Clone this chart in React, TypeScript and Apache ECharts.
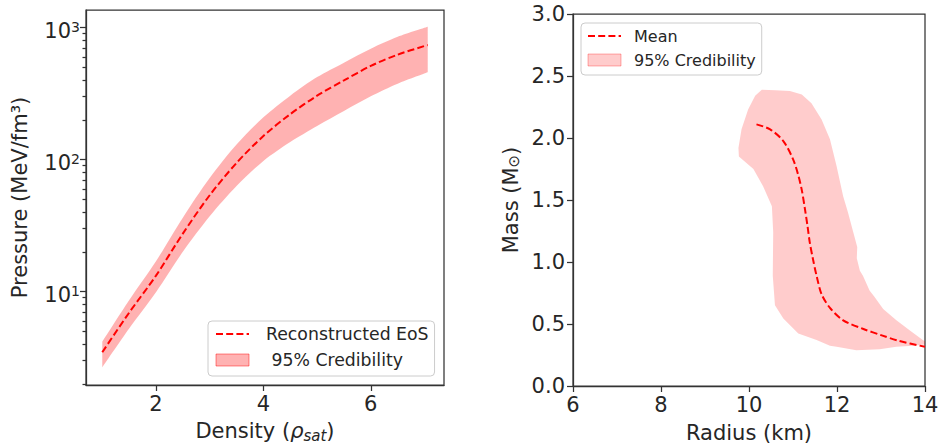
import React, { useEffect, useRef } from "react";
import * as echarts from "echarts";

// ---------- Left panel: EoS ----------
const density = [1.0, 1.5, 2.0, 2.5, 3.0, 3.5, 4.0, 4.5, 5.0, 5.5, 6.0, 6.5, 7.06];
const pressureMean = [3.47, 6.92, 13.2, 27.5, 53.7, 94.4, 151, 221, 305, 398, 513, 624, 738];
const pressureUpper = [4.17, 8.61, 17.0, 36.3, 72.4, 130, 209, 305, 422, 543, 692, 851, 1014];
const pressureLower = [2.66, 5.25, 9.89, 20.0, 37.2, 63.1, 97.7, 136, 180, 234, 302, 376, 459];
const densityTicks = [2, 4, 6];
const pressureDecades = [10, 100, 1000];
const pressureMinorTicks = [2, 3, 4, 5, 6, 7, 8, 9, 20, 30, 40, 50, 60, 70, 80, 90, 200, 300, 400, 500, 600, 700, 800, 900];

// ---------- Right panel: Mass-Radius ----------
const radiusMean = [10.17, 10.48, 10.78, 11.0, 11.12, 11.2, 11.27, 11.33, 11.38, 11.45, 11.535, 11.65, 11.84, 12.14, 12.6, 13.0, 13.4, 14.0];
const massMean = [2.11, 2.07, 1.975, 1.83, 1.7, 1.58, 1.43, 1.29, 1.16, 1.03, 0.89, 0.74, 0.63, 0.53, 0.46, 0.41, 0.365, 0.316];
const bandRadius = [9.77, 9.76, 9.83, 9.98, 10.14, 10.29, 10.6, 10.93, 11.2, 11.42, 11.65, 11.84, 11.99, 12.14, 12.25, 12.37, 12.46, 12.45, 12.52, 12.59, 12.74, 12.85, 13.05, 13.35, 13.65, 13.95, 14.0, 14.0, 13.73, 13.35, 12.97, 12.44, 11.99, 11.84, 11.535, 11.12, 10.78, 10.59, 10.54, 10.55, 10.52, 10.32, 10.1];
const bandMass = [1.85, 1.92, 2.07, 2.23, 2.34, 2.39, 2.385, 2.38, 2.35, 2.28, 2.15, 1.99, 1.775, 1.53, 1.4, 1.24, 1.12, 1.03, 0.93, 0.89, 0.77, 0.72, 0.62, 0.53, 0.45, 0.37, 0.36, 0.335, 0.325, 0.316, 0.297, 0.289, 0.316, 0.325, 0.37, 0.423, 0.544, 0.651, 0.89, 1.24, 1.45, 1.61, 1.75];
const radiusTicks = [6, 8, 10, 12, 14];
const massTicks = [0, 0.5, 1.0, 1.5, 2.0, 2.5, 3.0];

const FONT = "DejaVu Sans";
const TXT = "#262626";
const AX = "#333333";
const RED = "#ff0000";

const lg = (v: number) => Math.log10(v);

const axisLine = { show: true, onZero: false, lineStyle: { color: AX, width: 1.25 } };
const tickLine = { color: AX, width: 1.25 };
const labelBase = { fontSize: 21, color: TXT, fontFamily: FONT };
const nameStyle = {
  fontSize: 21,
  color: TXT,
  fontFamily: FONT,
  rich: {
    it: { fontSize: 21, fontStyle: "italic", color: TXT, fontFamily: FONT, lineHeight: 24 },
    sub: { fontSize: 15, fontStyle: "italic", color: TXT, fontFamily: FONT, lineHeight: 15, verticalAlign: "bottom" },
    subn: { fontSize: 15, color: TXT, fontFamily: FONT, lineHeight: 15, verticalAlign: "bottom" },
  },
};
const hiddenSymbol = { opacity: 0, color: "transparent", borderColor: "transparent", borderWidth: 0 };

function buildOption() {
  const pMin = lg(1.96);
  const pMax = lg(1360);

  const polygonRender = (xs: number[], ys: number[], fill: string) => (params: any, api: any) => {
    if (params.dataIndex !== 0) return null;
    const pts = xs.map((x, i) => api.coord([x, ys[i]]));
    return { type: "polygon", shape: { points: pts }, style: { fill } };
  };

  // rows are [logPressure, density] so that the stacked dimension is the pressure one
  const lowerRows = density.map((d, i) => [lg(pressureLower[i]), d]);
  const widthRows = density.map((d, i) => [lg(pressureUpper[i]) - lg(pressureLower[i]), d]);

  return {
    animation: false,
    backgroundColor: "#ffffff",
    grid: [
      { left: 86, top: 10, width: 358, height: 376, show: true, borderColor: AX, borderWidth: 1.25, backgroundColor: "transparent" },
      { left: 573, top: 14, width: 352, height: 374, show: true, borderColor: AX, borderWidth: 1.25, backgroundColor: "transparent" },
    ],
    xAxis: [
      {
        gridIndex: 0,
        type: "value",
        min: 0.697,
        max: 7.363,
        splitLine: { show: false },
        axisLine,
        axisTick: { customValues: densityTicks, length: 6, lineStyle: tickLine },
        axisLabel: { ...labelBase, customValues: densityTicks, margin: 8 },
        name: "Density ({it|ρ}{sub|sat})",
        nameLocation: "middle",
        nameGap: 34,
        nameTextStyle: nameStyle,
      },
      {
        gridIndex: 1,
        type: "value",
        min: 6,
        max: 14,
        interval: 2,
        splitLine: { show: false },
        axisLine,
        axisTick: { customValues: radiusTicks, length: 6, lineStyle: tickLine },
        axisLabel: { ...labelBase, customValues: radiusTicks, margin: 8 },
        name: "Radius (km)",
        nameLocation: "middle",
        nameGap: 36,
        nameTextStyle: nameStyle,
      },
    ],
    yAxis: [
      {
        gridIndex: 0,
        type: "value",
        min: pMin,
        max: pMax,
        splitLine: { show: false },
        axisLine,
        axisTick: { customValues: pressureDecades.map(lg), length: 6, lineStyle: tickLine },
        axisLabel: {
          customValues: pressureDecades.map(lg),
          margin: 6,
          formatter: (v: number) => `{b|10}{s|${Math.round(v)}}`,
          rich: {
            b: { fontSize: 21, lineHeight: 22, padding: [6, 0, 0, 0], color: TXT, fontFamily: FONT },
            s: { fontSize: 14, lineHeight: 14, padding: [3, 0, 0, 0], verticalAlign: "top", color: TXT, fontFamily: FONT },
          },
        },
        name: "Pressure (MeV/fm³)",
        nameLocation: "middle",
        nameGap: 56,
        nameTextStyle: nameStyle,
      },
      {
        gridIndex: 0,
        type: "value",
        min: pMin,
        max: pMax,
        position: "left",
        splitLine: { show: false },
        axisLine: { show: false },
        axisLabel: { show: false },
        axisTick: { customValues: pressureMinorTicks.map(lg), length: 3.5, lineStyle: tickLine },
      },
      {
        gridIndex: 1,
        type: "value",
        min: 0,
        max: 3,
        interval: 0.5,
        splitLine: { show: false },
        axisLine,
        axisTick: { customValues: massTicks, length: 6, lineStyle: tickLine },
        axisLabel: { ...labelBase, customValues: massTicks, margin: 8, formatter: (v: number) => v.toFixed(1) },
        name: "Mass (M{subn|⊙})",
        nameLocation: "middle",
        nameGap: 52,
        nameTextStyle: nameStyle,
      },
    ],
    legend: [
      {
        data: [
          { name: "Reconstructed EoS", itemStyle: hiddenSymbol },
          { name: " 95% Credibility", icon: "rect", itemStyle: { color: "rgba(255,0,0,0.3)", borderColor: "rgba(255,0,0,0.45)", borderWidth: 1, opacity: 1 } },
        ],
        orient: "vertical",
        left: 208,
        top: 321,
        itemWidth: 33,
        itemHeight: 12,
        itemGap: 8,
        padding: [4, 6, 7, 7],
        backgroundColor: "rgba(255,255,255,0.8)",
        borderColor: "#cccccc",
        borderWidth: 1,
        borderRadius: 4,
        selectedMode: false,
        textStyle: { fontSize: 17.3, lineHeight: 18, color: TXT, fontFamily: FONT, padding: [0, 0, 0, 12] },
      },
      {
        data: [
          { name: "Mean", itemStyle: hiddenSymbol },
          { name: "95% Credibility", icon: "rect", itemStyle: { color: "rgba(255,0,0,0.2)", borderColor: "rgba(255,0,0,0.3)", borderWidth: 1, opacity: 1 } },
        ],
        orient: "vertical",
        left: 581,
        top: 23,
        itemWidth: 33,
        itemHeight: 12,
        itemGap: 8,
        padding: [5, 6, 7, 6],
        backgroundColor: "rgba(255,255,255,0.8)",
        borderColor: "#cccccc",
        borderWidth: 1,
        borderRadius: 4,
        selectedMode: false,
        textStyle: { fontSize: 16, lineHeight: 16, color: TXT, fontFamily: FONT, padding: [0, 0, 0, 8] },
      },
    ],
    series: [
      {
        type: "line",
        name: "bandLowerBase",
        xAxisIndex: 0,
        yAxisIndex: 0,
        stack: "eosBand",
        encode: { x: 1, y: 0 },
        data: lowerRows,
        symbol: "none",
        smooth: 0.3,
        lineStyle: { opacity: 0, width: 0 },
        silent: true,
      },
      {
        type: "line",
        name: " 95% Credibility",
        xAxisIndex: 0,
        yAxisIndex: 0,
        stack: "eosBand",
        encode: { x: 1, y: 0 },
        data: widthRows,
        symbol: "none",
        smooth: 0.3,
        itemStyle: { color: "rgba(255,0,0,0.3)" },
        lineStyle: { opacity: 0, width: 0 },
        areaStyle: { color: "rgba(255,0,0,0.3)", opacity: 1 },
        silent: true,
      },
      {
        type: "line",
        name: "Reconstructed EoS",
        xAxisIndex: 0,
        yAxisIndex: 0,
        data: density.map((d, i) => [d, lg(pressureMean[i])]),
        symbol: "none",
        smooth: 0.3,
        itemStyle: { color: RED },
        lineStyle: { color: RED, width: 2, type: [7, 3.2] },
        silent: true,
      },
      {
        type: "custom",
        name: "95% Credibility",
        xAxisIndex: 1,
        yAxisIndex: 2,
        itemStyle: { color: "rgba(255,0,0,0.2)" },
        data: [[bandRadius[0], bandMass[0]]],
        renderItem: polygonRender(bandRadius, bandMass, "rgba(255,0,0,0.2)"),
        silent: true,
      },
      {
        type: "line",
        name: "Mean",
        xAxisIndex: 1,
        yAxisIndex: 2,
        data: radiusMean.map((r, i) => [r, massMean[i]]),
        symbol: "none",
        smooth: 0.3,
        itemStyle: { color: RED },
        lineStyle: { color: RED, width: 2, type: [7, 3.2] },
        silent: true,
      },
    ],
  };
}

export default function App() {
  const ref = useRef<HTMLDivElement>(null);
  useEffect(() => {
    if (!ref.current) return;
    const chart = echarts.init(ref.current, null, { renderer: "svg" });
    chart.setOption(buildOption() as any);
    return () => chart.dispose();
  }, []);
  return (
    <div
      ref={ref}
      style={{ position: "fixed", left: 0, top: 0, width: 944, height: 448, background: "#ffffff" }}
    />
  );
}
